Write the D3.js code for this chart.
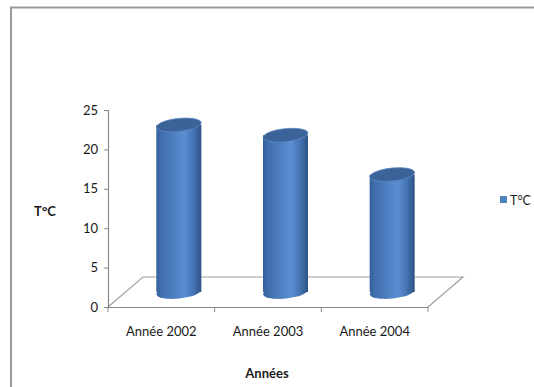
<!DOCTYPE html>
<html>
<head>
<meta charset="utf-8">
<script src="https://cdn.jsdelivr.net/npm/d3@7"></script>
<style>
  html, body { margin: 0; padding: 0; background: #fff; }
  svg { display: block; }
  text { font-family: Lato, "Open Sans", "DejaVu Sans", sans-serif; fill: #1a1a1a; }
</style>
</head>
<body>
<svg id="chart" width="534" height="387"></svg>
<script>
// Mean temperature per year
const categories = ["Année 2002", "Année 2003", "Année 2004"];
const values = [21.2, 19.9, 14.9];
const yTicks = [0, 5, 10, 15, 20, 25];
const seriesName = "T°C";
const yTitle = "T°C";
const xTitle = "Années";

const svg = d3.select("#chart");

// Outer frame (right and bottom edges fall outside the view)
svg.append("rect")
  .attr("x", 11).attr("y", 7.5).attr("width", 600).attr("height", 500)
  .attr("fill", "none").attr("stroke", "#9a9a9a").attr("stroke-width", 2);

const x = d3.scaleBand().domain(categories).range([108, 428]).padding(0);
const y = d3.scaleLinear().domain([0, 25]).range([307, 110]);

// Depth of the floor (perspective offset)
const depthX = 35, depthY = -30;

// Floor parallelogram
const x0 = x.range()[0], x1 = x.range()[1], yb = y(0);
svg.append("path")
  .attr("d", `M${x0},${yb} L${x0 + depthX},${yb + depthY} L${x1 + depthX},${yb + depthY} L${x1},${yb}`)
  .attr("fill", "none").attr("stroke", "#a0a0a0").attr("stroke-width", 1.2);

// Value axis
const yAxis = d3.axisLeft(y).tickValues(yTicks).tickSize(4).tickPadding(6);
const gy = svg.append("g").attr("transform", `translate(${x0},0)`).call(yAxis);
gy.select(".domain").attr("stroke", "#8a8a8a").attr("stroke-width", 1.2);
gy.selectAll(".tick line").attr("stroke", "#8a8a8a");
gy.selectAll(".tick text").style("font-size", "13px").attr("fill", "#1a1a1a");

// Category axis
const xAxis = d3.axisBottom(x).tickSize(0).tickPadding(20);
const gx = svg.append("g").attr("transform", `translate(0,${yb})`).call(xAxis);
gx.select(".domain").attr("stroke", "#8a8a8a").attr("stroke-width", 1.2);
gx.selectAll(".tick text").style("font-size", "13px").attr("fill", "#1a1a1a");
// Tick marks at the category boundaries
const bounds = categories.map(c => x(c)).concat([x1]);
gx.selectAll(".bound").data(bounds).enter().append("line")
  .attr("x1", d => d).attr("x2", d => d).attr("y1", 0).attr("y2", 5)
  .attr("stroke", "#8a8a8a");

// Cylinder shading
const defs = svg.append("defs");
const grad = defs.append("linearGradient").attr("id", "cyl")
  .attr("x1", "0%").attr("x2", "100%").attr("y1", "0%").attr("y2", "0%");
[["0%", "#33609a"], ["12%", "#3f6fae"], ["45%", "#5283c6"], ["62%", "#5a8ed3"],
 ["82%", "#4574b3"], ["100%", "#2c5386"]].forEach(([o, c]) =>
  grad.append("stop").attr("offset", o).attr("stop-color", c));

const rx = 22.5, ry = 6.5, tilt = -6;
const bars = svg.selectAll(".bar").data(categories.map((c, i) => ({ c, v: values[i] })))
  .enter().append("g").attr("class", "bar");

bars.each(function (d) {
  const g = d3.select(this);
  const cx = x(d.c) + x.bandwidth() / 2 + depthX / 2;
  const base = y(0) + depthY / 2;
  const top = y(d.v) + depthY / 2;
  g.append("ellipse")
    .attr("cx", cx).attr("cy", base).attr("rx", rx).attr("ry", ry)
    .attr("transform", `rotate(${tilt},${cx},${base})`)
    .attr("fill", "url(#cyl)");
  g.append("rect")
    .attr("x", cx - rx).attr("y", top).attr("width", rx * 2).attr("height", base - top)
    .attr("fill", "url(#cyl)");
  g.append("ellipse")
    .attr("cx", cx).attr("cy", top).attr("rx", rx).attr("ry", ry)
    .attr("transform", `rotate(${tilt},${cx},${top})`)
    .attr("fill", "#3b6399").attr("stroke", "#5b87c2").attr("stroke-width", 0.8);
});

// Axis titles
svg.append("text").attr("x", 45).attr("y", 216).attr("text-anchor", "middle")
  .style("font-size", "13px").style("font-weight", "bold").text(yTitle);
svg.append("text").attr("x", 267).attr("y", 378).attr("text-anchor", "middle")
  .style("font-size", "13px").style("font-weight", "bold").text(xTitle);

// Legend
svg.append("rect").attr("x", 500).attr("y", 196).attr("width", 7).attr("height", 7)
  .attr("fill", "#4f81bd");
svg.append("text").attr("x", 510).attr("y", 204.5)
  .style("font-size", "12.5px").text(seriesName);
</script>
</body>
</html>
